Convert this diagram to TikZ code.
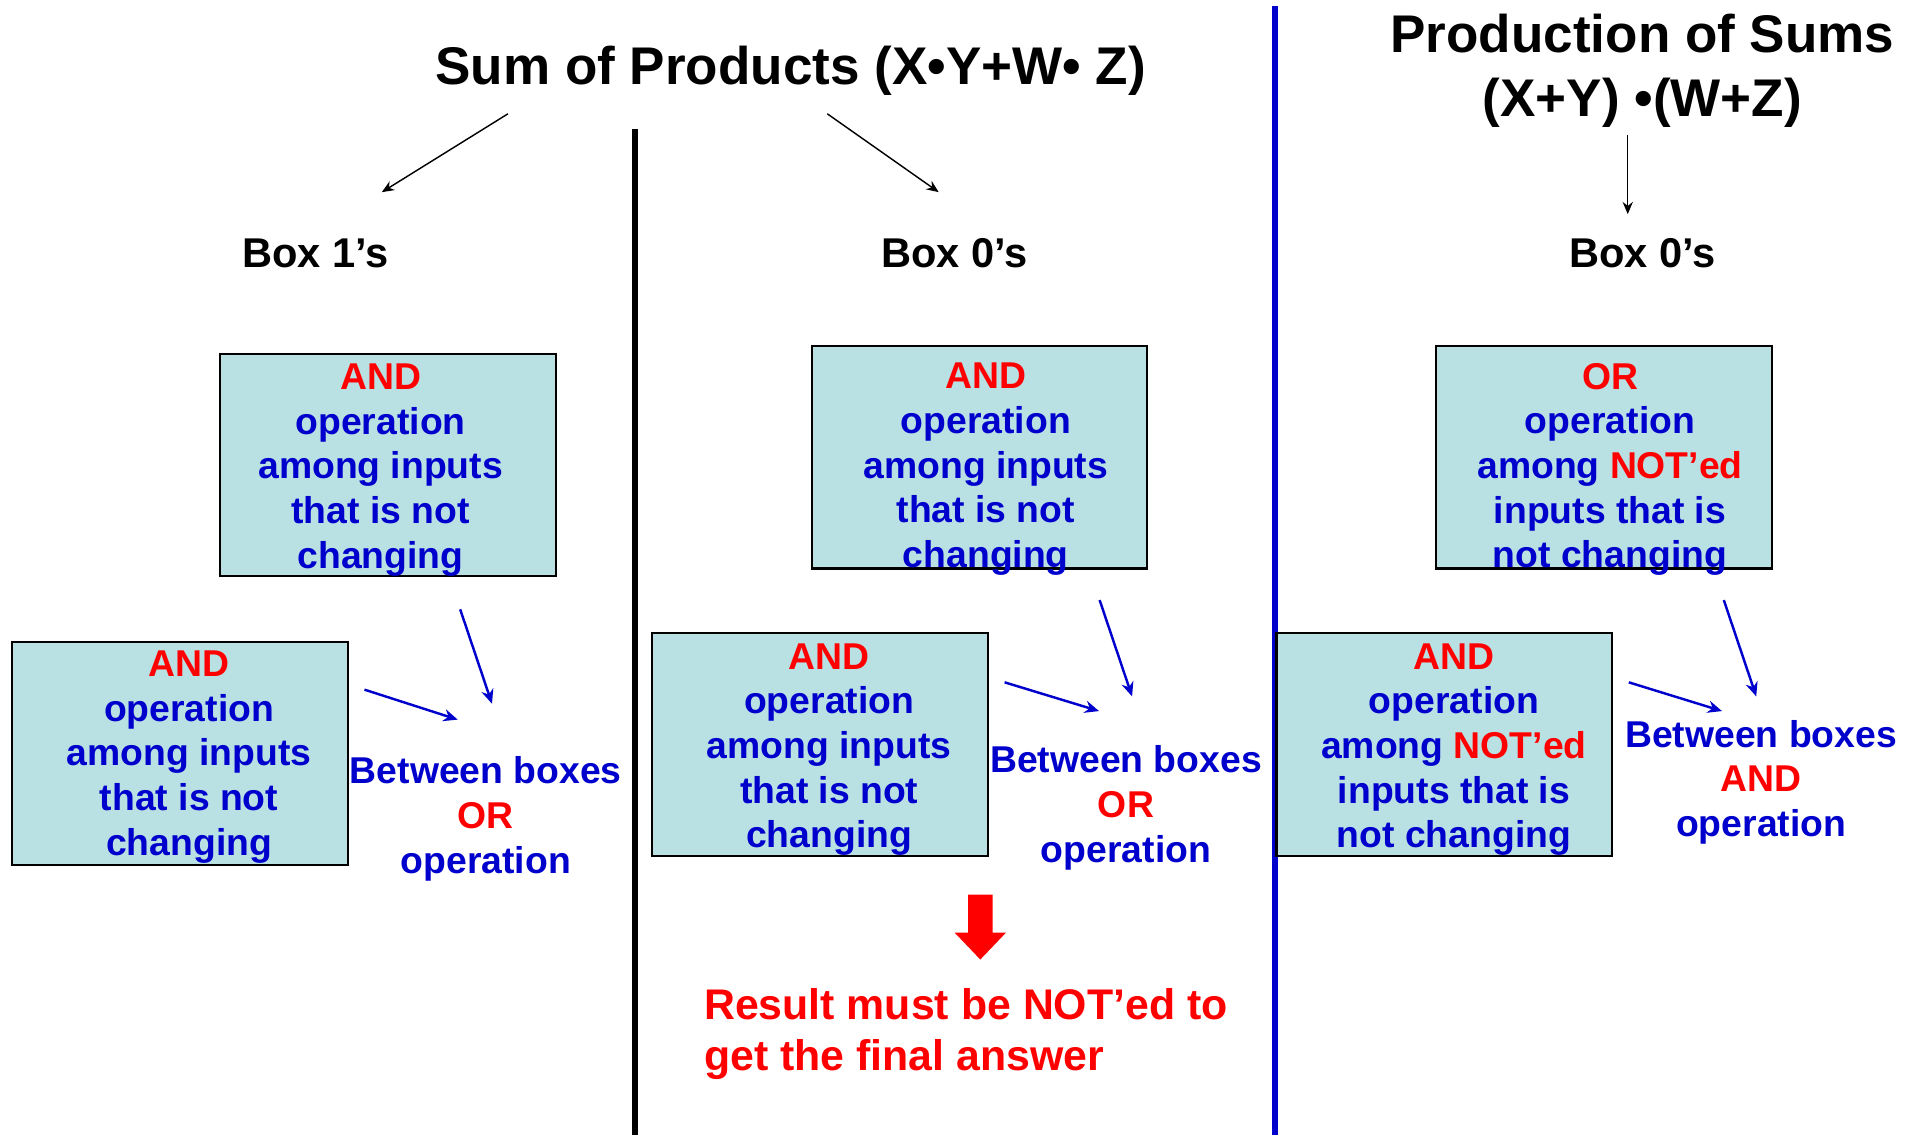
\documentclass[tikz,border=0pt]{standalone}
\usepackage{fontspec}
\setmainfont{Liberation Sans}
\usepackage{tikz}
\usetikzlibrary{arrows.meta, positioning, calc}

\definecolor{boxcyan}{RGB}{185,224,227}
\definecolor{opblue}{RGB}{0,0,204}
\definecolor{opred}{RGB}{255,0,0}

\newcommand{\hdfont}{\fontsize{26}{31.2}\selectfont\bfseries}
\newcommand{\lbfont}{\fontsize{20.4}{24}\selectfont\bfseries}
\newcommand{\opfont}{\fontsize{18.3}{21.9}\selectfont\bfseries}
\newcommand{\rsfont}{\fontsize{21}{25.2}\selectfont\bfseries}
\newcommand{\hl}[1]{\textcolor{opred}{#1}}

\tikzset{
	opbox/.style={rectangle, draw=black, line width=1pt, fill=boxcyan, inner sep=0pt, minimum width=164.4pt, minimum height=109.2pt},
	opnote/.style={text=opblue, align=center, font=\opfont, inner sep=0pt},
	pointer/.style={-{Stealth[length=6pt, width=5pt]}, line width=0.7pt},
	feed/.style={-{Stealth[length=7pt, width=6pt]}, opblue, line width=1.2pt},
}

\begin{document}
\begin{tikzpicture}[x=0.6pt, y=-0.6pt]
		\useasboundingbox (0,0) rectangle (1568,927);
		% headings and dividers
		\node[font=\hdfont, inner sep=0pt] (sop) at (646,58) {Sum of Products (X•Y+W• Z)};
		\node[font=\hdfont, inner sep=0pt, align=center] (pos) at (1342,58) {Production of Sums\\(X+Y) •(W+Z)};
		\draw[line width=3pt] (519,105) -- (519,927);
		\draw[opblue, line width=3pt] (1042,5) -- (1042,927);

		\node[font=\lbfont, inner sep=0pt] (ones) at (258,207) {Box 1's};
		\node[font=\lbfont, inner sep=0pt] (zeros) at (780,207) {Box 0's};
		\node[font=\lbfont, inner sep=0pt] (zerosP) at (1342,207) {Box 0's};
		\coordinate (sopL) at (415,93);
		\coordinate (sopR) at (676,93);
		\coordinate (posB) at (1330,110);
		\draw[pointer] (sopL) -- ($(ones)+(54,-50)$);
		\draw[pointer] (sopR) -- ($(zeros)+(-13,-50)$);
		\draw[pointer] (posB) -- ($(zerosP)+(-12,-32)$);

		% sum of products, 1's
		\node[opbox] (A1) at (317,380) {};
		\node[opnote] (A1t) at (311,384) {\hl{AND}\\operation\\among inputs\\that is not\\changing};
		\node[opbox] (B1) at (147,615.5) {};
		\node[opnote] (B1t) at (154.5,618.5) {\hl{AND}\\operation\\among inputs\\that is not\\changing};
		\node[opnote] (N1) at (397,669) {Between boxes\\\hl{OR}\\operation};
		\draw[feed] ($(A1.south)+(59,26)$) -- ($(N1)+(5,-94)$);
		\draw[feed] ($(B1.east)+(13,-52)$) -- ($(N1)+(-23,-81)$);

		% sum of products, 0's
		\node[opbox] (A2) at (800.5,373.5) {};
		\node[opnote] (A2t) at (805.5,383.5) {\hl{AND}\\operation\\among inputs\\that is not\\changing};
		\node[opbox] (B2) at (670,608.5) {};
		\node[opnote] (B2t) at (677.5,612.5) {\hl{AND}\\operation\\among inputs\\that is not\\changing};
		\node[opnote] (N2) at (920,660) {Between boxes\\\hl{OR}\\operation};
		\draw[feed] ($(A2.south)+(98,25)$) -- ($(N2)+(5,-91)$);
		\draw[feed] ($(B2.east)+(13,-51)$) -- ($(N2)+(-22,-79)$);

		\fill[opred] (791,731) -- (811,731) -- (811,762) -- (822,762) -- (801,784) -- (780,762) -- (791,762) -- cycle;
		\node[text=opred, font=\rsfont, align=left, inner sep=0pt, anchor=west] (res) at (575,845) {Result must be NOT'ed to\\get the final answer};

		% product of sums, 0's
		\node[opbox] (A3) at (1310.5,373.5) {};
		\node[opnote] (A3t) at (1315.5,383.5) {\hl{OR}\\operation\\among \hl{NOT'ed}\\inputs that is\\not changing};
		\node[opbox] (B3) at (1180,608.5) {};
		\node[opnote] (B3t) at (1188,612.5) {\hl{AND}\\operation\\among \hl{NOT'ed}\\inputs that is\\not changing};
		\node[opnote] (N3) at (1439,639) {Between boxes\\\hl{AND}\\operation};
		\draw[feed] ($(A3.south)+(98,25)$) -- ($(N3)+(-4,-70)$);
		\draw[feed] ($(B3.east)+(13,-51)$) -- ($(N3)+(-32,-58)$);
\end{tikzpicture}
\end{document}
